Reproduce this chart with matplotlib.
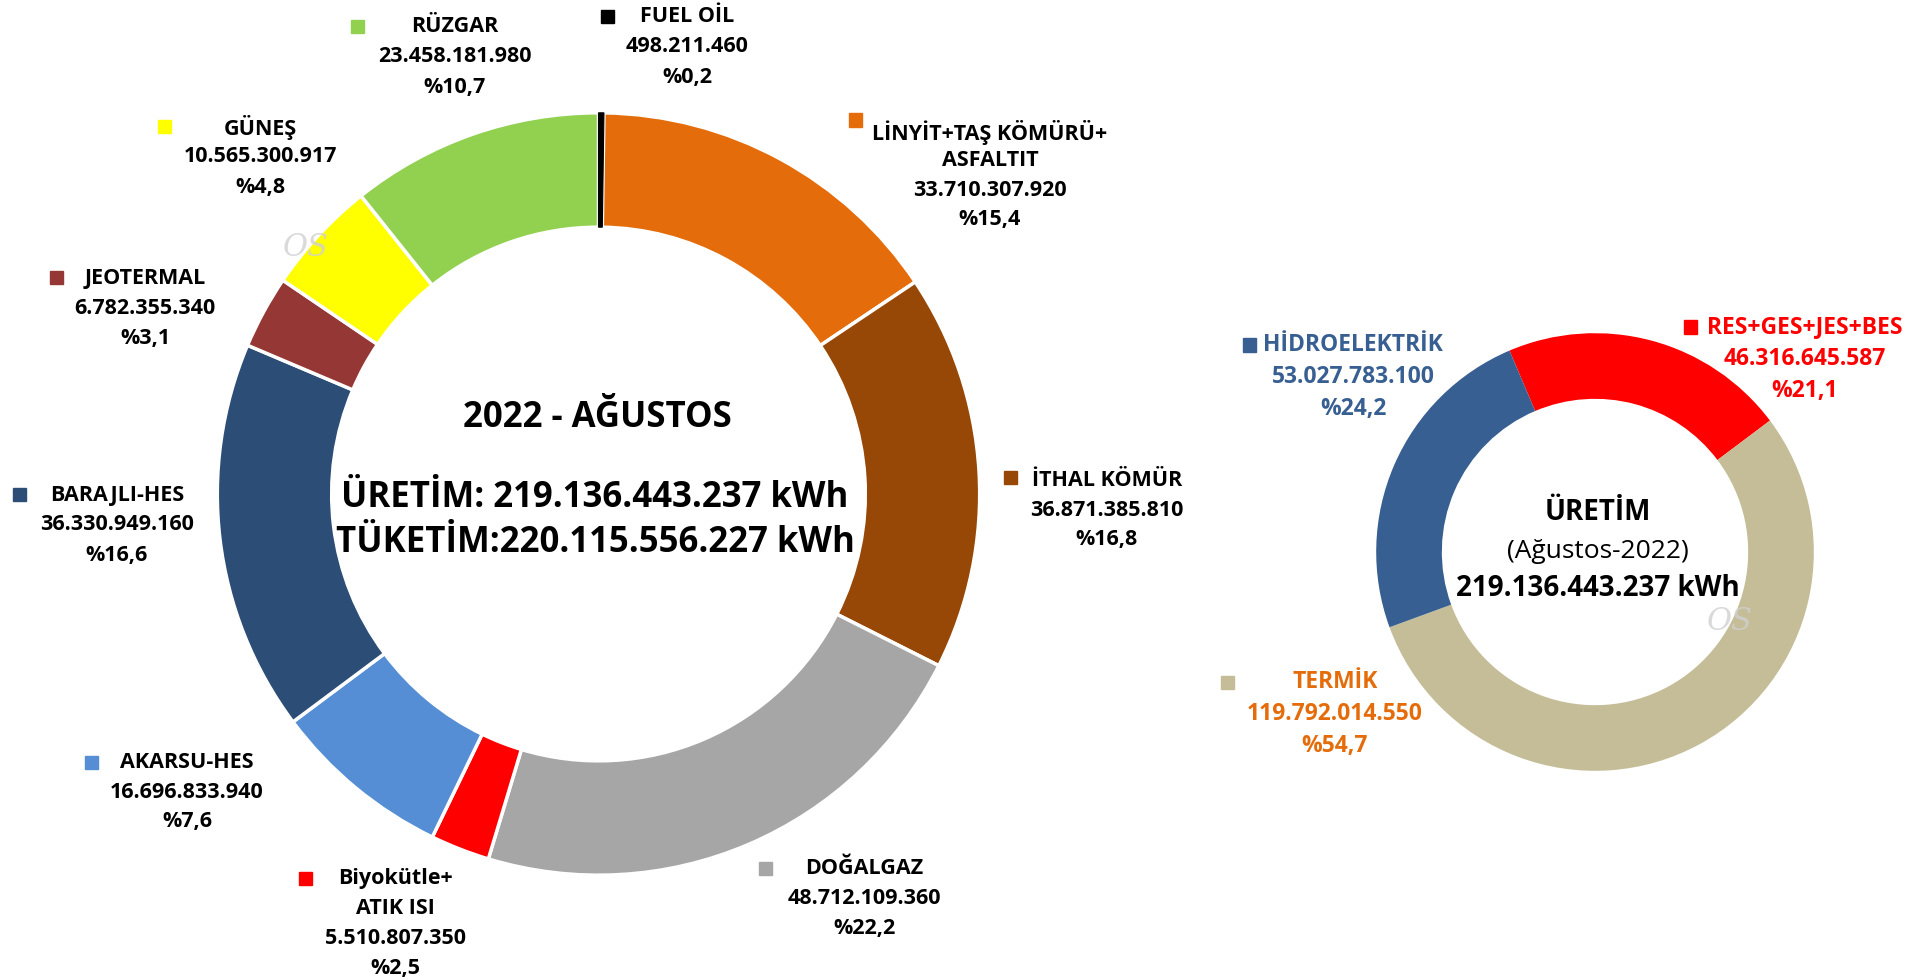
import matplotlib
matplotlib.use("Agg")
import matplotlib.pyplot as plt
from matplotlib.patches import Rectangle

plt.rcParams['font.family'] = ['Open Sans', 'DejaVu Sans']

W, H = 1905, 980

# sol grafik: kaynak bazında üretim (kWh), ağustos 2022
sources = ['FUEL OİL', 'LİNYİT+TAŞ KÖMÜRÜ+\nASFALTIT', 'İTHAL KÖMÜR', 'DOĞALGAZ',
           'Biyokütle+\nATIK ISI', 'AKARSU-HES', 'BARAJLI-HES', 'JEOTERMAL',
           'GÜNEŞ', 'RÜZGAR']
values = [498211460, 33710307920, 36871385810, 48712109360, 5510807350,
          16696833940, 36330949160, 6782355340, 10565300917, 23458181980]
colors = ['#000000', '#E46C0A', '#974806', '#A6A6A6', '#FF0000',
          '#558ED5', '#2C4D75', '#953735', '#FFFF00', '#92D050']

# sağ grafik: gruplar
groups = ['RES+GES+JES+BES', 'TERMİK', 'HİDROELEKTRİK']
group_values = [46316645587, 119792014550, 53027783100]
group_colors = ['#FF0000', '#C4BD97', '#385F91']
group_text_colors = ['#FF0000', '#E46C0A', '#385F91']

production = '219.136.443.237'
consumption = '220.115.556.227'

# etiket yerleşimi (piksel): kare x, kare y, metin merkezi x, ilk satır y
left_pos = [(607, 17, 687, 17), (855, 120, 990, 132), (1010, 478, 1107, 480),
            (765, 868, 864, 868), (305, 878, 395, 878), (91, 762, 187, 762),
            (19, 495, 117, 495), (56, 278, 145, 278), (164, 127, 260, 127),
            (357, 27, 455, 27)]
right_pos = [(1690, 327, 1805, 327), (1227, 682, 1335, 682), (1249, 345, 1353, 345)]


def fx(x):
    return x / W


def fy(y):
    return 1 - y / H


def fmt_num(v):
    return f"{v:,}".replace(',', '.')


def fmt_pct(v, total):
    return ('%' + f"{v / total * 100:.1f}").replace('.', ',')


def label_block(fig, pos, name, value, total, marker_color, text_color, size, step):
    mx, my, cx, y0 = pos
    s = 13
    fig.patches.append(Rectangle((fx(mx - s / 2), fy(my + s / 2)), s / W, s / H,
                                 transform=fig.transFigure, color=marker_color))
    lines = name.split('\n') + [fmt_num(value), fmt_pct(value, total)]
    for i, line in enumerate(lines):
        fig.text(fx(cx), fy(y0 + i * step), line, ha='center', va='center',
                 fontsize=size, fontweight='bold', color=text_color)


fig = plt.figure(figsize=(W / 100, H / 100), dpi=100)

# sol halka
cx, cy, r = 598.5, 494, 385
ax = fig.add_axes([fx(cx - r), fy(cy + r), 2 * r / W, 2 * r / H])
wedges, _ = ax.pie(values, colors=colors, startangle=90, counterclock=False, radius=1,
                   wedgeprops=dict(width=0.30, edgecolor='white', linewidth=2.5))
# fuel oil dilimi çok ince, beyaz kenarların altında kaybolmasın
wedges[0].set_edgecolor('black')
wedges[0].set_linewidth(0.8)
wedges[0].set_zorder(5)
ax.set_xlim(-1.01, 1.01)
ax.set_ylim(-1.01, 1.01)
ax.set_aspect('equal')
ax.axis('off')

total = sum(values)
for i in range(len(sources)):
    step = 29 if i == 1 else 30
    label_block(fig, left_pos[i], sources[i], values[i], total, colors[i], 'black', 15.5, step)

fig.text(fx(597), fy(418), '2022 - AĞUSTOS', ha='center', va='center',
         fontsize=25, fontweight='bold')
fig.text(fx(595), fy(498), f'ÜRETİM: {production} kWh', ha='center', va='center',
         fontsize=25, fontweight='bold')
fig.text(fx(595), fy(543), f'TÜKETİM:{consumption} kWh', ha='center', va='center',
         fontsize=25, fontweight='bold')

# sağ halka
cx2, cy2, r2 = 1595, 552, 221
ax2 = fig.add_axes([fx(cx2 - r2), fy(cy2 + r2), 2 * r2 / W, 2 * r2 / H])
ax2.pie(group_values, colors=group_colors, startangle=113, counterclock=False, radius=1,
        wedgeprops=dict(width=0.30, linewidth=0))
ax2.set_xlim(-1.01, 1.01)
ax2.set_ylim(-1.01, 1.01)
ax2.set_aspect('equal')
ax2.axis('off')

gtotal = sum(group_values)
for i in range(len(groups)):
    label_block(fig, right_pos[i], groups[i], group_values[i], gtotal,
                group_colors[i], group_text_colors[i], 16.5, 32)

fig.text(fx(1598), fy(513), 'ÜRETİM', ha='center', va='center', fontsize=20, fontweight='bold')
fig.text(fx(1598), fy(552), '(Ağustos-2022)', ha='center', va='center', fontsize=19)
fig.text(fx(1598), fy(588), f'{production} kWh', ha='center', va='center',
         fontsize=20, fontweight='bold')

# filigran
for x, y in [(306, 248), (1730, 622)]:
    fig.text(fx(x), fy(y), 'OS', ha='center', va='center', fontsize=22, style='italic',
             family='DejaVu Serif', color='#d0d0d0', alpha=0.8)

fig.savefig('out.png', dpi=100, facecolor='white')
